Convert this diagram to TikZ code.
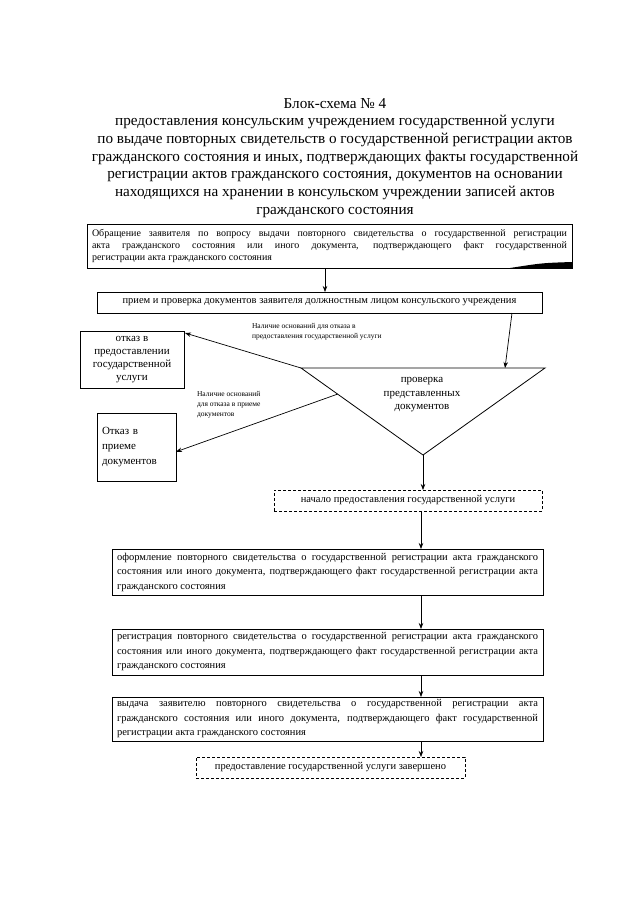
\documentclass[tikz,border=0pt]{standalone}
\usepackage{fontspec}
\setmainfont{Liberation Serif}
\usetikzlibrary{arrows.meta,calc}
\hbadness=10000
\tolerance=9999
\begin{document}
\begin{tikzpicture}[x=1pt,y=-1pt,
  every node/.style={inner sep=0pt, outer sep=0pt},
  box/.style={draw, line width=0.9pt, inner xsep=5pt, align=justify,
    font=\fontsize{10.5}{14.5}\selectfont},
  dbox/.style={draw, line width=0.8pt, dash pattern=on 3pt off 2pt,
    font=\fontsize{10.5}{13}\selectfont},
  arr/.style={line width=0.7pt, -{Stealth[length=6pt,width=4.5pt]}},
  lab/.style={font=\fontsize{7.5}{10}\selectfont, align=left},
]
\useasboundingbox (0,0) rectangle (640,905);

\node[anchor=north, align=center, font=\fontsize{15.2}{17.7}\selectfont] (title) at (335,98)
{Блок-схема № 4\\
предоставления консульским учреждением государственной услуги\\
по выдаче повторных свидетельств о государственной регистрации актов\\
гражданского состояния и иных, подтверждающих факты государственной\\
регистрации актов гражданского состояния, документов на основании\\
находящихся на хранении в консульском учреждении записей актов\\
гражданского состояния};

\node[box, minimum width=485, minimum height=44, text width=475,
  font=\fontsize{10}{12}\selectfont] (b1) at (329.5,246)
{Обращение заявителя по вопросу выдачи повторного свидетельства о государственной регистрации\linebreak
акта гражданского состояния или иного документа, подтверждающего факт государственной\linebreak
регистрации акта гражданского состояния};
\fill ($(b1.south east)+(-62,0)$) .. controls ($(b1.south east)+(-30,-5)$) .. ($(b1.south east)+(0,-6)$) -- (b1.south east) -- cycle;

\node[box, align=center, minimum width=445, minimum height=21] (b2) at (319.5,302.5)
{прием и проверка документов заявителя должностным лицом консульского учреждения};

\node[box, align=center, minimum width=104, minimum height=57,
  font=\fontsize{11}{13}\selectfont] (r1) at (132,359.5)
{отказ в\\предоставлении\\государственной\\услуги};

\node[box, align=left, minimum width=79, minimum height=68, text width=69,
  font=\fontsize{11}{15}\selectfont] (r2) at (136.5,447)
{Отказ в\\приеме\\документов\\[4pt]};

\coordinate (tl) at (301,368);
\coordinate (tr) at (545,368);
\coordinate (ap) at (423,455);
\draw[line width=0.8pt] (tl) -- (tr) -- (ap) -- cycle;
\node[align=center, font=\fontsize{11}{13.5}\selectfont] (tri) at (422,395)
{проверка\\представленных\\документов};

\node[lab, anchor=north west] (lab1) at (252,323)
{Наличие оснований для отказа в\\предоставления государственной услуги};
\node[lab, anchor=north west] (lab2) at (197,391)
{Наличие оснований\\для отказа в приеме\\документов};

\node[dbox, minimum width=268, minimum height=21] (d1) at (408,500.5)
{начало предоставления государственной услуги};

\node[box, minimum width=431, minimum height=46, text width=421] (b3) at (327.5,572)
{оформление повторного свидетельства о государственной регистрации акта гражданского\linebreak
состояния или иного документа, подтверждающего факт государственной регистрации акта\linebreak
гражданского состояния};

\node[box, minimum width=431, minimum height=46, text width=421] (b4) at (327.5,652)
{регистрация повторного свидетельства о государственной регистрации акта гражданского\linebreak
состояния или иного документа, подтверждающего факт государственной регистрации акта\linebreak
гражданского состояния};

\node[box, minimum width=431, minimum height=44, text width=421] (b5) at (327.5,719)
{выдача заявителю повторного свидетельства о государственной регистрации акта\linebreak
гражданского состояния или иного документа, подтверждающего факт государственной\linebreak
регистрации акта гражданского состояния};

\node[dbox, minimum width=269, minimum height=21] (d2) at (330.5,767.5)
{предоставление государственной услуги завершено};

% connectors
\coordinate (xa) at (325,0);
\coordinate (xb) at (512,0);
\coordinate (xc) at (505,0);
\coordinate (xd) at (421,0);
\draw[arr] (b1.south -| xa) -- (b2.north -| xa);
\draw[arr] (b2.south -| xb) -- (tl -| xc);
\draw[arr] (tl) -- ($(r1.north east)+(1,2)$);
\draw[arr] ($(tl)!0.3!(ap)$) -- ($(r2.north east)!0.57!(r2.south east)$);
\draw[arr] (ap) -- (ap |- d1.north);
\draw[arr] (d1.south -| xd) -- (b3.north -| xd);
\draw[arr] (b3.south -| xd) -- (b4.north -| xd);
\draw[arr] (b4.south -| xd) -- (b5.north -| xd);
\draw[arr] (b5.south -| xd) -- (d2.north -| xd);
\end{tikzpicture}
\end{document}
